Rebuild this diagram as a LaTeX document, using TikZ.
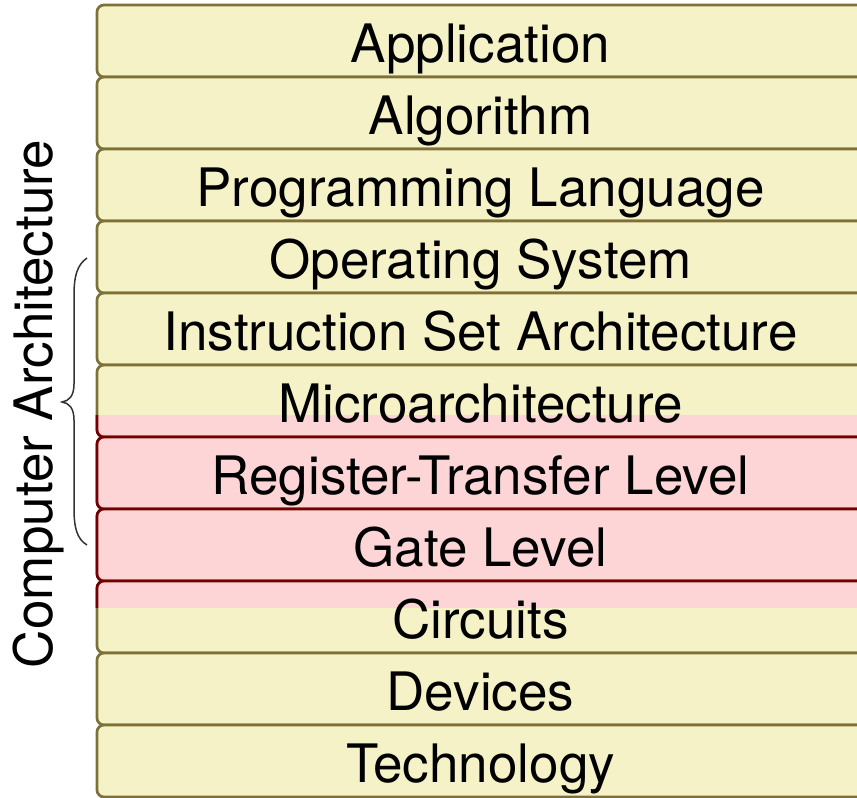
\documentclass[tikz,border=0pt]{standalone}
\usepackage{fontspec}
\setmainfont{TeX Gyre Heros}
\definecolor{boxfill}{HTML}{F6F2C8}
\definecolor{boxline}{HTML}{7D7038}
\definecolor{hlfill}{HTML}{FDD5D6}
\definecolor{hlline}{HTML}{720000}
\definecolor{bracecol}{HTML}{333333}
\tikzset{
  layerbox/.style={draw=boxline, fill=boxfill, line width=2.7pt, rounded corners=7pt,
    minimum width=769pt, minimum height=72pt, inner sep=0pt, outer sep=0pt, rectangle},
  hlbox/.style={draw=hlline, fill=hlfill, line width=2.7pt, rounded corners=7pt},
  layertext/.style={anchor=base, font=\fontsize{53}{60}\selectfont, inner sep=0pt},
  sidetext/.style={font=\fontsize{53}{60}\selectfont, rotate=90, anchor=base, inner sep=0pt},
  bracestyle/.style={draw=bracecol, line width=1.5pt}
}
\begin{document}
\begin{tikzpicture}[x=1pt,y=-1pt]
\useasboundingbox (0,0) rectangle (857,798);
\clip (0,0) rectangle (857,798);
% boxes
\foreach \i in {0,...,10}{
  \node[layerbox] (b\i) at (481.5,{41+72*\i}) {};
}
% highlight band
\begin{scope}
  \clip (0,415) rectangle (880,607);
  \foreach \i in {5,...,8}{
    \path[hlbox] (b\i.north west) rectangle (b\i.south east);
  }
\end{scope}
% labels
\foreach \i/\t in {0/Application,1/Algorithm,2/Programming Language,3/Operating System,
  4/Instruction Set Architecture,5/Microarchitecture,6/Register-Transfer Level,
  7/Gate Level,8/Circuits,9/Devices,10/Technology}{
  \node[layertext] (t\i) at (480.5,{62.5+72*\i}) {\t};
}
% side label and brace
\node[sidetext] (side) at (52,404) {Computer Architecture};
\coordinate (btop) at (87,258);
\coordinate (bbot) at (87,545);
\draw[bracestyle] (btop) .. controls (77,265) and (74,276) .. (74,296) -- (74,384)
  .. controls (74,396) and (69,401) .. (62,402)
  .. controls (69,403) and (74,408) .. (74,420) -- (74,508)
  .. controls (74,528) and (77,539) .. (bbot);
\end{tikzpicture}
\end{document}
